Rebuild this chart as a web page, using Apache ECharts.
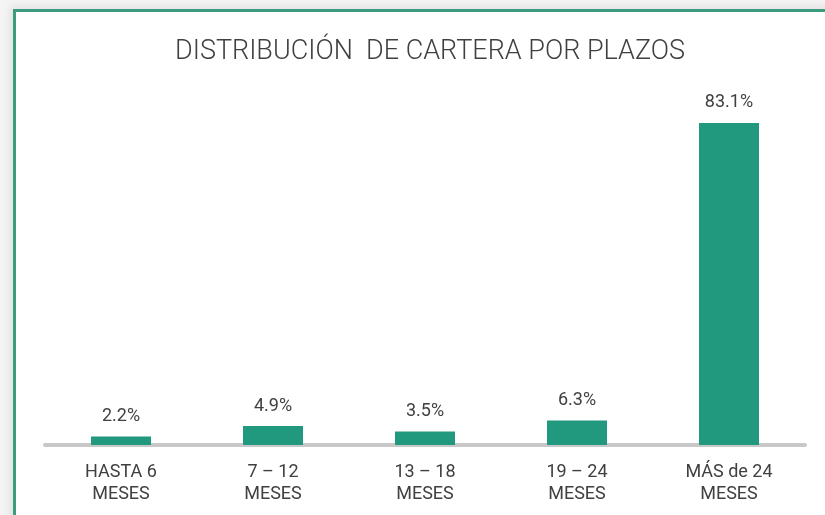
<!DOCTYPE html>
<html>
<head>
    <meta charset="utf-8">
    <title>Distribución de cartera por plazos</title>
    <script src="https://cdn.jsdelivr.net/npm/echarts@6/dist/echarts.min.js"></script>
    <style>
        html, body {
            margin: 0;
            padding: 0;
            background: #f4f4f4;
        }

        /*marco verde arriba e izquierda*/
        .frame {
            position: absolute;
            left: 13px;
            top: 9px;
            width: 830px;
            height: 520px;
            background: #fff;
            border-left: 3px solid #3d9b80;
            border-top: 3px solid #3d9b80;
            box-shadow: -3px -3px 8px rgba(0, 0, 0, 0.08);
        }

        #main {
            position: absolute;
            left: 0;
            top: 0;
            width: 825px;
            height: 515px;
        }
    </style>
</head>
<body>
<div class="frame"></div>
<div id="main"></div>
<script>
    // datos del grafico
    var categorias = ['HASTA 6\nMESES', '7 – 12\nMESES', '13 – 18\nMESES', '19 – 24\nMESES', 'MÁS de 24\nMESES'];
    var valores = [2.2, 4.9, 3.5, 6.3, 83.1];

    var myChart = echarts.init(document.getElementById('main'));

    var option = {
        backgroundColor: 'transparent',
        title: {
            text: 'DISTRIBUCIÓN  DE CARTERA POR PLAZOS',
            left: 425,
            textAlign: 'center',
            top: 34,
            textStyle: {
                fontFamily: 'Roboto',
                fontWeight: 300,
                fontSize: 27,
                color: '#404040'
            }
        },
        grid: {
            left: 45,
            width: 760,
            top: 57.5,
            height: 387.5
        },
        xAxis: {
            type: 'category',
            data: categorias,
            axisTick: {show: false},
            axisLine: {
                lineStyle: {color: '#c8c8c8', width: 4, cap: 'round'}
            },
            axisLabel: {
                margin: 16,
                fontFamily: 'Roboto',
                fontSize: 18,
                lineHeight: 22,
                color: '#404040'
            }
        },
        yAxis: {
            type: 'value',
            min: 0,
            max: 100,
            show: false
        },
        series: [
            {
                type: 'bar',
                data: valores,
                barWidth: 60,
                itemStyle: {color: '#21997f'},
                label: {
                    show: true,
                    position: 'top',
                    distance: 11,
                    fontFamily: 'Roboto',
                    fontSize: 18,
                    color: '#404040',
                    formatter: function (p) {
                        return p.value.toFixed(1) + '%';
                    }
                }
            }
        ]
    };
    myChart.setOption(option);
</script>
</body>
</html>
